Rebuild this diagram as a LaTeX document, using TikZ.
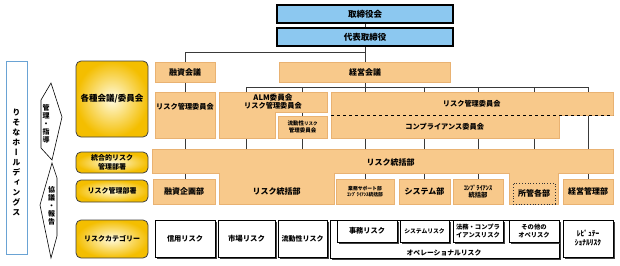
\documentclass[tikz,border=0pt]{standalone}
\usepackage{fontspec}
\setmainfont{Noto Sans CJK JP}
\newfontfamily\vjp[RawFeature=+vert]{Noto Sans CJK JP}
\usepackage{tikz}
\usetikzlibrary{shadows,backgrounds,calc}
\definecolor{cBlue}{HTML}{8CC8F0}
\definecolor{cOrg}{HTML}{F8C98B}
\definecolor{cOrgLine}{HTML}{E9B272}
\definecolor{cYel}{HTML}{F4BE00}
\definecolor{cYelIn}{HTML}{FFFBE0}
\definecolor{cHd}{HTML}{6AA3D4}
\definecolor{cLine}{HTML}{3A3A3A}
\newcommand{\fsz}[2]{\fontsize{#1}{#2}\selectfont}

\begin{document}
\begin{tikzpicture}[x=1pt, y=-1pt,
    sz/.style 2 args={minimum width=#1pt, minimum height=#2pt},
    conn/.style={draw=cLine, line width=0.8pt},
    topbox/.style={rectangle, draw=black, line width=1.4pt, fill=cBlue, inner sep=0pt, font=\fsz{8.5}{9.5}\bfseries},
    oshape/.style={draw=cOrgLine, line width=0.4pt, fill=cOrg},
    obox/.style={rectangle, oshape, inner sep=0pt, align=center, font=\fsz{8}{9.5}\bfseries},
    ybox/.style={rectangle, rounded corners=5pt, draw=black!75, line width=0.8pt, inner color=cYelIn, outer color=cYel, inner sep=0pt, align=center, font=\fsz{7.5}{9.5}\bfseries},
    riskbox/.style={rectangle, draw=black, line width=0.8pt, fill=white, inner sep=0pt, align=center, font=\fsz{7.2}{8.5}\bfseries, drop shadow={shadow xshift=1.5pt, shadow yshift=-1.5pt, fill=black!75, opacity=1}},
    txt/.style={inner sep=0pt, align=center, font=\fsz{7.2}{8.5}\bfseries},
    vtxt/.style={inner sep=0pt, align=center, font=\vjp\fsz{7}{8}\bfseries},
    arrshape/.style={draw=black, line width=0.6pt, fill=white}
]
    \useasboundingbox (0,0) rectangle (620,265);

    % Holdings
    \node[draw=cHd, line width=1pt, fill=white, sz={21}{193}] (hd) at (16.5,157.5) {};
    \node[vtxt, font=\vjp\fsz{8}{10}\bfseries] (hdt) at (16.5,162) {り\\そ\\な\\ホ\\ー\\ル\\デ\\ィ\\ン\\グ\\ス};

    % Arrows
    \path[arrshape] (41,100) -- (51,83) -- (62,117) -- (52,160) -- (41,148) -- cycle;
    \node[vtxt] (kanri) at (46,124) {管\\理\\・\\指\\導};
    \path[arrshape] (52,163) -- (57,178) -- (57,236) -- (51,258) -- (40,205) -- cycle;
    \node[vtxt] (kyogi) at (51.5,206) {協\\議\\・\\報\\告};

    % Left column
    \node[ybox, sz={72}{76}, font=\fsz{8.5}{9.5}\bfseries] (kg) at (112,99) {各種会議/委員会};
    \node[ybox, sz={72}{21}, font=\fsz{7}{8.5}\bfseries] (tr) at (112,162.5) {統合的リスク\\管理部署};
    \node[ybox, sz={72}{22}, font=\fsz{7}{8.5}\bfseries] (rk) at (112,191) {リスク管理部署};
    \node[ybox, sz={72}{38}, font=\fsz{7}{8.5}\bfseries] (rc) at (112,239) {リスクカテゴリー};

    % Board
    \node[topbox, sz={176}{18}] (tb) at (365,14) {取締役会};
    \node[topbox, sz={176}{18}] (dh) at (365,37) {代表取締役};

    % Meetings
    \node[obox, sz={60}{20}] (ys) at (185,72) {融資会議};
    \node[obox, sz={171}{20}] (kk) at (365,72) {経営会議};

    % Committees
    \node[obox, sz={60}{46}] (rcl) at (185,115) {};
    \node[txt] (rclt) at (185,107) {リスク管理委員会};
    \path[oshape] (219,92) -- (327,92) -- (327,112) -- (275,112) -- (275,138) -- (219,138) -- cycle;
    \coordinate (almtop) at (246.7,92);
    \node[txt] (alm) at (273,101.5) {{\fsz{7.6}{8.5}\bfseries ALM委員会}\\リスク管理委員会};
    \node[obox, sz={49}{22}, font=\fsz{5.5}{7}\bfseries] (ryu) at (302.5,127) {流動性{\fsz{4.5}{7}\bfseries リスク}\\管理委員会};
    \path[oshape] (331,92) -- (613,92) -- (613,115) -- (559,115) -- (559,138) -- (331,138) -- cycle;
    \draw[dashed, line width=0.6pt] (331,115) -- (613,115);
    \node[txt] (rcb) at (471.7,103.3) {リスク管理委員会};
    \node[txt] (cpc) at (444.7,126.7) {コンプライアンス委員会};

    % Risk management division
    \path[oshape] (152,149) -- (613,149) -- (613,173) -- (558,173) -- (558,204) -- (509,204)
        -- (509,173) -- (334,173) -- (334,204) -- (219,204) -- (219,173) -- (152,173) -- cycle;
    \coordinate (rtop) at (0,149);
    \node[txt, font=\fsz{8}{9}\bfseries] (rt) at (390.7,162) {リスク統括部};
    \node[txt, font=\fsz{8}{9}\bfseries] (rt2) at (276.5,191.5) {リスク統括部};

    % Departments
    \node[obox, sz={62}{25}] (yk) at (184,191.5) {融資企画部};
    \node[obox, sz={58}{25}, font=\fsz{4.8}{6.5}\bfseries] (gs) at (365,191.5) {業務サポート部\\ｺﾝﾌﾟﾗｲｱﾝｽ統括部};
    \node[obox, sz={51}{25}] (sy) at (424.5,191.5) {システム部};
    \node[obox, sz={50}{25}, font=\fsz{6.3}{7.8}\bfseries] (cp) at (478,191.5) {ｺﾝﾌﾟﾗｲｱﾝｽ\\統括部};
    \node[draw=black!80, dotted, line width=0.8pt, inner sep=0pt, sz={42}{21}, font=\fsz{8}{9}\bfseries] (sk) at (534,193.5) {所管各部};
    \node[obox, sz={50}{25}] (km) at (588,191.5) {経営管理部};

    % Risk categories
    \node[riskbox, sz={60}{37}] (sr) at (185,238.5) {信用リスク};
    \node[riskbox, sz={57}{37}, font=\fsz{7.4}{8.5}\bfseries] (mr) at (246.5,238.5) {市場リスク};
    \node[riskbox, sz={49}{37}, font=\fsz{7}{8}\bfseries] (lr) at (302.5,238.5) {流動性リスク};
    \node[riskbox, sz={229}{38}] (op) at (444.5,239) {};
    \node[txt, font=\fsz{6.8}{8}\bfseries] (opt) at (444,252.5) {オペレーショナルリスク};
    \node[riskbox, sz={60}{22}] (jm) at (367,231) {事務リスク};
    \node[riskbox, sz={49}{22}, font=\fsz{5.8}{7}\bfseries] (syr) at (424.5,231) {システムリスク};
    \node[riskbox, sz={50}{22}, font=\fsz{6.3}{7.5}\bfseries] (hc) at (478,231) {法務・コンプラ\\イアンスリスク};
    \node[riskbox, sz={50}{22}, font=\fsz{6.3}{7.5}\bfseries] (so) at (534,231) {その他の\\オペリスク};
    \node[riskbox, sz={50}{37}, font=\fsz{7.5}{9}\bfseries] (rp) at (588,238.5) {ﾚﾋﾟｭﾃｰ\\ｼｮﾅﾙﾘｽｸ};

    % Connectors
    \coordinate (bus) at (365,87);
    \begin{scope}[on background layer]
        \draw[conn] (tb) -- (dh);
        \draw[conn] (dh) -- (kk);
        \draw[conn] ($(dh.south)!.375!(kk.north)$) -| (ys);
        \draw[conn] (ys) -- (ys |- yk.north);
        \draw[conn] (kk) -- (gs);
        \draw[conn] (almtop |- bus) -- (km |- bus);
        \draw[conn] (almtop |- bus) -- (almtop |- rtop);
        \draw[conn] (ryu |- bus) -- (ryu |- rtop);
        \draw[conn] (sy |- bus) -- (sy);
        \draw[conn] (cp |- bus) -- (cp);
        \draw[conn] (sk |- bus) -- (sk |- rtop);
        \draw[conn] (km |- bus) -- (km);
    \end{scope}
\end{tikzpicture}
\end{document}
